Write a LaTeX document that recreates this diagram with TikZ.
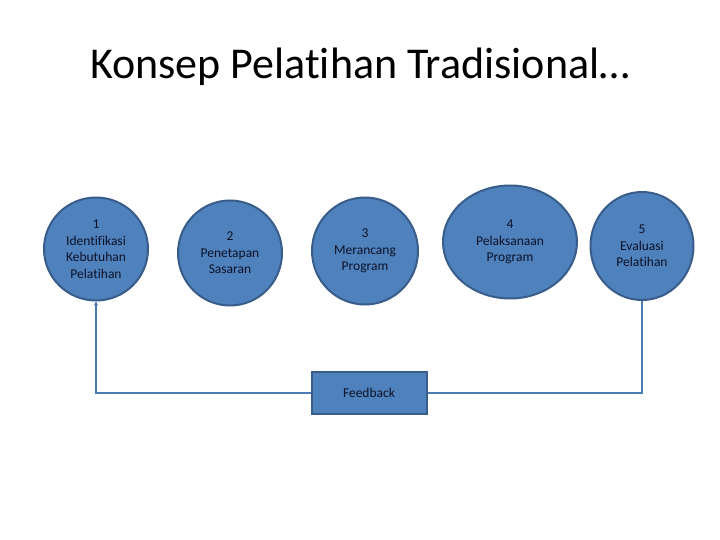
\documentclass[tikz,border=0pt]{standalone}
\usepackage{fontspec}
\setmainfont{Carlito}[Ligatures=NoCommon]
\usetikzlibrary{shapes.geometric,arrows.meta}
\definecolor{stepfill}{RGB}{79,129,189}
\definecolor{stepline}{RGB}{56,93,138}
\definecolor{steptext}{RGB}{12,18,40}
\tikzset{
  stage/.style={ellipse,fill=stepfill,draw=stepline,line width=2pt,align=center,
    text=steptext,inner sep=0pt,font=\fontsize{13.5}{16.5}\selectfont},
  fbbox/.style={rectangle,fill=stepfill,draw=stepline,line width=2pt,
    text=steptext,font=\fontsize{13.5}{16.5}\selectfont},
  loopline/.style={draw=stepfill!95!black,line width=2pt}
}
\begin{document}
\begin{tikzpicture}[x=1pt,y=-1pt]
\useasboundingbox (0,0) rectangle (720,540);
\node[font=\fontsize{44}{52}\selectfont] (title) at (360,67) {Konsep Pelatihan Tradisional…};

\node[stage,minimum width=104pt,minimum height=103pt] (s1) at (96,249)  {1\\Identifikasi\\Kebutuhan\\Pelatihan};
\node[stage,minimum width=104pt,minimum height=105pt] (s2) at (230,253) {2\\Penetapan\\Sasaran};
\node[stage,minimum width=106pt,minimum height=107pt] (s3) at (365,251) {3\\Merancang\\Program};
\node[stage,minimum width=134pt,minimum height=113pt] (s4) at (510,242) {4\\Pelaksanaan\\Program};
\node[stage,minimum width=103pt,minimum height=108pt] (s5) at (642,246) {5\\Evaluasi\\Pelatihan};

\node[fbbox,minimum width=115pt,minimum height=42pt] (fb) at (369,393) {Feedback};

% feedback loop
\draw[loopline] (s5.south) |- (fb.east);
\draw[loopline,-{Stealth[length=4pt,width=4pt]}] (fb.west) -| (s1.south);
\end{tikzpicture}
\end{document}
